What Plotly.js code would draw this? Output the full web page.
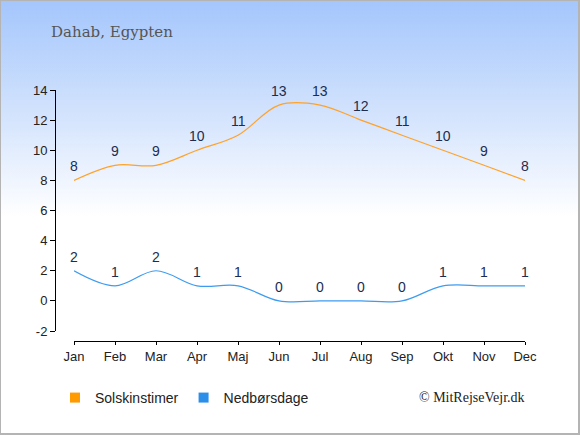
<!DOCTYPE html>
<html>
<head>
<meta charset="utf-8">
<script src="https://cdn.plot.ly/plotly-3.0.1.min.js"></script>
<style>
  html, body { margin: 0; padding: 0; }
  #wrap {
    width: 580px; height: 435px; box-sizing: border-box;
    border-top: 1px solid #b4b4b4; border-left: 1px solid #b4b4b4;
    border-right: 2px solid #b4b4b4; border-bottom: 2px solid #b4b4b4;
    background: linear-gradient(to bottom, #a4c6fc 0%, #d6e5fd 28%, #ffffff 50%, #ffffff 100%);
    overflow: hidden;
  }
  #chart { width: 580px; height: 435px; margin: -1px 0 0 -1px; }
</style>
</head>
<body>
<div id="wrap"><div id="chart"></div></div>
<script>
const months = ["Jan","Feb","Mar","Apr","Maj","Jun","Jul","Aug","Sep","Okt","Nov","Dec"];
const sunHours = [8, 9, 9, 10, 11, 13, 13, 12, 11, 10, 9, 8];
const rainDays = [2, 1, 2, 1, 1, 0, 0, 0, 0, 1, 1, 1];
const seriesNames = ["Solskinstimer", "Nedbørsdage"];
const yTicks = [-2, 0, 2, 4, 6, 8, 10, 12, 14];
const yTickText = ["-2", "0", "2", "4", "6", "8", "10", "12", "14"];
const chartTitle = "Dahab, Egypten";
const credit = "© MitRejseVejr.dk";

const labelFont = {family: "Liberation Sans, Arial, sans-serif", size: 14, color: "#1c2d50"};
const idx = months.map((m, i) => i);

const traces = [
  {x: idx, y: sunHours, mode: "lines", line: {color: "#ffa22a", width: 1.2, shape: "spline", smoothing: 1},
   showlegend: false, hoverinfo: "skip"},
  {x: idx, y: rainDays, mode: "lines", line: {color: "#3d9cf0", width: 1.2, shape: "spline", smoothing: 1},
   showlegend: false, hoverinfo: "skip"},
  {x: [null], y: [null], mode: "markers", name: seriesNames[0],
   marker: {symbol: "square", size: 10, color: "#ff9a00"}, showlegend: true},
  {x: [null], y: [null], mode: "markers", name: seriesNames[1],
   marker: {symbol: "square", size: 10, color: "#2b8ee8"}, showlegend: true}
];

const annotations = [];
[sunHours, rainDays].forEach(series => {
  series.forEach((v, i) => {
    annotations.push({x: i, y: v, xref: "x", yref: "y", text: String(v), showarrow: false,
      yanchor: "middle", xanchor: "center", yshift: 14, font: labelFont});
  });
});
annotations.push({text: credit, xref: "paper", yref: "paper", x: 1.004, xanchor: "right", y: -0.227, yanchor: "middle",
  showarrow: false, font: {family: "Liberation Serif, Times New Roman, serif", size: 14, color: "#222"}});

const tickFont = {family: "Liberation Sans, Arial, sans-serif", size: 13, color: "#222"};

const layout = {
  width: 580, height: 435,
  paper_bgcolor: "rgba(0,0,0,0)", plot_bgcolor: "rgba(0,0,0,0)",
  margin: {l: 55, r: 55, t: 90, b: 94},
  title: {text: chartTitle, xref: "container", yref: "container", x: 51/580, xanchor: "left",
          y: 1 - 32/435, yanchor: "middle",
          font: {family: "DejaVu Serif, Liberation Serif, serif", size: 15, color: "#555"}},
  xaxis: {domain: [19/470, 1], range: [0, 11], anchor: "free", position: 0,
          tickvals: idx, ticktext: months, showline: true, linecolor: "#000", linewidth: 1,
          ticks: "outside", ticklen: 3, tickcolor: "#000", showgrid: false, zeroline: false,
          tickfont: tickFont, fixedrange: true},
  yaxis: {domain: [10/251, 1], range: [-2, 14], tickvals: yTicks, ticktext: yTickText, anchor: "free", position: 0,
          showline: true, linecolor: "#000", linewidth: 1, ticks: "outside", ticklen: 5,
          tickcolor: "#000", showgrid: false, zeroline: false, tickfont: tickFont, fixedrange: true},
  legend: {orientation: "h", x: 0.0, xanchor: "left", y: -0.227, yanchor: "middle",
           font: {family: "Liberation Sans, Arial, sans-serif", size: 14, color: "#222"},
           bgcolor: "rgba(0,0,0,0)"},
  annotations: annotations,
  showlegend: true
};

Plotly.newPlot("chart", traces, layout, {displayModeBar: false, staticPlot: true});
</script>
</body>
</html>
